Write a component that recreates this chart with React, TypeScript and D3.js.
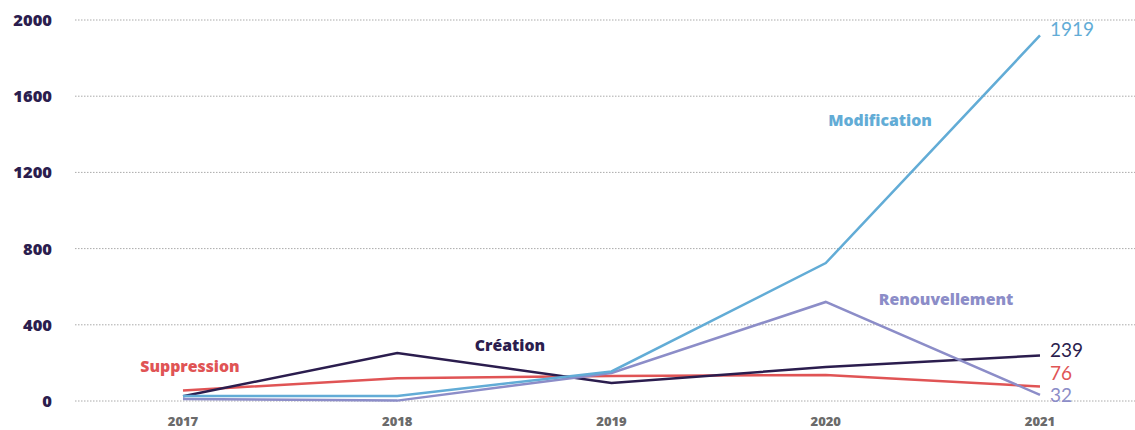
import React from "react";
import * as d3 from "d3";

const years = ["2017", "2018", "2019", "2020", "2021"];
const modification = [26, 26, 155, 724, 1919];
const renouvellement = [10, 2, 147, 520, 32];
const creation = [25, 252, 94, 178, 239];
const suppression = [55, 120, 131, 137, 76];
const yTicks = [0, 400, 800, 1200, 1600, 2000];

const W = 1135;
const H = 430;

export default function App() {
  const x = d3.scalePoint<string>().domain(years).range([183, 1040]);
  const y = d3.scaleLinear().domain([0, 2000]).range([401, 20]);
  const line = d3
    .line<number>()
    .x((_, i) => x(years[i]) as number)
    .y((d) => y(d));

  const series = [
    { name: "Suppression", data: suppression, color: "#e05455", label: { x: 190, y: 366 } },
    { name: "Création", data: creation, color: "#2b1d4e", label: { x: 510, y: 345 } },
    { name: "Renouvellement", data: renouvellement, color: "#8c8dc8", label: { x: 946, y: 299 } },
    { name: "Modification", data: modification, color: "#62acd6", label: { x: 880, y: 120 } },
  ];

  const endLabels = [
    { v: modification[4], color: "#62acd6" },
    { v: creation[4], color: "#2b1d4e" },
    { v: suppression[4], color: "#e05455" },
    { v: renouvellement[4], color: "#8c8dc8" },
  ];
  const endY = [y(modification[4]) - 6, y(creation[4]) - 5, y(creation[4]) + 18, y(renouvellement[4]) + 0];

  const bold = "'Open Sans', Lato, sans-serif";

  return (
    <svg
      width={W}
      height={H}
      style={{ position: "absolute", left: 0, top: 0, background: "#fff" }}
      fontFamily={bold}
    >
      {yTicks.map((t) => (
        <g key={t}>
          <line
            x1={75}
            x2={W}
            y1={y(t)}
            y2={y(t)}
            stroke="#aaaaaa"
            strokeWidth={1}
            strokeDasharray="1.5,1.5"
          />
          <text
            x={52}
            y={y(t)}
            dy="0.36em"
            textAnchor="end"
            fontSize={16.5}
            fontWeight={800}
            fill="#2b1d4e"
          >
            {t}
          </text>
        </g>
      ))}
      {years.map((yr) => (
        <text
          key={yr}
          x={x(yr)}
          y={421}
          dy="0.35em"
          textAnchor="middle"
          fontSize={13}
          fontWeight={800}
          fill="#6b6b6b"
        >
          {yr}
        </text>
      ))}
      {series.map((s) => (
        <path key={s.name} d={line(s.data) || ""} fill="none" stroke={s.color} strokeWidth={2.5} />
      ))}
      {series.map((s) => (
        <text
          key={s.name + "l"}
          x={s.label.x}
          y={s.label.y}
          dy="0.35em"
          textAnchor="middle"
          fontSize={15.8}
          fontWeight={800}
          fill={s.color}
        >
          {s.name}
        </text>
      ))}
      {endLabels.map((l, i) => (
        <text
          key={i}
          x={1050}
          y={endY[i]}
          dy="0.35em"
          fontSize={19}
          fontWeight={400}
          fontFamily="Lato, sans-serif"
          fill={l.color}
        >
          {l.v}
        </text>
      ))}
    </svg>
  );
}
